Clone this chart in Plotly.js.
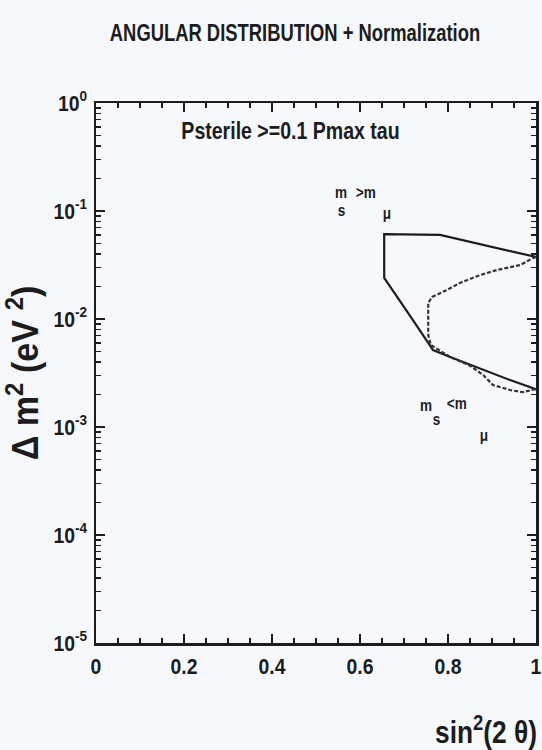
<!DOCTYPE html>
<html>
<head>
<meta charset="utf-8">
<script src="https://cdn.plot.ly/plotly-3.0.1.min.js"></script>
<style>
  html, body { margin: 0; padding: 0; background: #f7f8fc; }
  #plot { width: 542px; height: 750px; }
</style>
</head>
<body>
<div id="plot"></div>
<script>
// Allowed region boundary (solid contour): sin^2(2theta) vs delta m^2
const solidSin2 = [1.0, 0.782, 0.655, 0.655, 0.720, 0.766, 0.805, 0.880, 0.941, 0.998, 1.0];
const solidDm2  = [0.0375, 0.060, 0.0612, 0.024, 0.0098, 0.00516, 0.00445, 0.00337, 0.00272, 0.00225, 0.0022];

// Second contour (dashed)
const dashSin2 = [1.0, 0.993, 0.964, 0.911, 0.873, 0.827, 0.798, 0.764, 0.755, 0.755, 0.755, 0.761,
                  0.805, 0.850, 0.880, 0.902, 0.941, 0.970, 0.993, 1.0];
const dashDm2  = [0.0375, 0.0367, 0.0316, 0.0284, 0.0255, 0.0216, 0.0186, 0.016, 0.0141, 0.0098, 0.0071, 0.00574,
                  0.00445, 0.0037, 0.00303, 0.00245, 0.0022, 0.0021, 0.0022, 0.00225];

// Axis tick labels
const xTickVals = [0, 0.2, 0.4, 0.6, 0.8, 1];
const xTickText = ['0', '0.2', '0.4', '0.6', '0.8', '1'];
const yTickVals = [1, 0.1, 0.01, 0.001, 0.0001, 0.00001];
const yTickText = ['10<sup>0</sup>', '10<sup>-1</sup>', '10<sup>-2</sup>', '10<sup>-3</sup>', '10<sup>-4</sup>', '10<sup>-5</sup>'];

const FONT = '"Liberation Sans", Arial, Helvetica, sans-serif';
const INK = '#1c1c1c';

const traces = [
  {
    x: solidSin2, y: solidDm2, type: 'scatter', mode: 'lines',
    line: { color: INK, width: 2.2 }, hoverinfo: 'skip'
  },
  {
    x: dashSin2, y: dashDm2, type: 'scatter', mode: 'lines',
    line: { color: '#333', width: 2.2, dash: '4px,2px' }, hoverinfo: 'skip'
  }
];

// pixel helpers for the paper-positioned labels
const L = 96, R = 536, T = 103, B = 643;
const px = v => (v - L) / (R - L);
const py = v => (B - v) / (B - T);

const txt = (x, y, text, size, extra) => Object.assign({
  xref: 'paper', yref: 'paper', x: px(x), y: py(y), text: text, showarrow: false,
  xanchor: 'center', yanchor: 'middle',
  font: { family: FONT, size: size, color: INK, weight: 700 }
}, extra || {});

const annotations = [
  txt(290, 131, 'Psterile >=0.1 Pmax tau', 23),
  // m_s > m_mu
  txt(341, 192, 'm', 16), txt(341, 210, 's', 16), txt(366, 192, '>m', 16), txt(387, 213, 'μ', 16),
  // m_s < m_mu
  txt(426, 405, 'm', 16), txt(436, 419, 's', 16), txt(457, 404, '<m', 16), txt(484, 435, 'μ', 16),
  // x axis title
  txt(486, 730, 'sin<sup>2</sup>(2 θ)', 31)
];

const tickFont = { family: FONT, size: 22, color: INK, weight: 700 };

const layout = {
  width: 542, height: 750,
  paper_bgcolor: '#f7f8fc', plot_bgcolor: '#f7f8fc',
  margin: { l: L, r: 542 - R, t: T, b: 750 - B },
  showlegend: false,
  title: {
    text: 'ANGULAR DISTRIBUTION + Normalization',
    xref: 'container', yref: 'container', x: 295 / 542, y: 1 - 33 / 750,
    xanchor: 'center', yanchor: 'middle',
    font: { family: FONT, size: 23, color: INK, weight: 700 }
  },
  xaxis: {
    range: [0, 1], tickvals: xTickVals, ticktext: xTickText,
    ticks: 'inside', ticklen: 9, tickwidth: 1.5, tickcolor: INK,
    minor: { dtick: 0.05, ticks: 'inside', ticklen: 5, tickwidth: 1.2, tickcolor: INK },
    showline: true, linecolor: INK, linewidth: 2.5, mirror: 'ticks',
    showgrid: false, zeroline: false, ticklabeloverflow: 'allow',
    ticklabelstandoff: 2, tickfont: tickFont
  },
  yaxis: {
    type: 'log', range: [-5, 0], tickvals: yTickVals, ticktext: yTickText,
    ticks: 'inside', ticklen: 9, tickwidth: 1.5, tickcolor: INK,
    minor: { dtick: 'D1', ticks: 'inside', ticklen: 5, tickwidth: 1.2, tickcolor: INK },
    showline: true, linecolor: INK, linewidth: 2.5, mirror: 'ticks',
    showgrid: false, zeroline: false, ticklabeloverflow: 'allow',
    ticklabelstandoff: 2, tickfont: tickFont,
    title: {
      text: 'Δ m<sup>2</sup> (eV <sup>2</sup>)', standoff: 0,
      font: { family: FONT, size: 36, color: INK, weight: 700 }
    }
  },
  annotations: annotations
};

// Narrow the lettering along the text direction in its own frame,
// keeping the anchor edge fixed, for a condensed typeface look.
function squeeze(selector, sx) {
  document.querySelectorAll(selector).forEach(t => {
    const b = t.getBBox();
    const anchor = t.getAttribute('text-anchor') || getComputedStyle(t).textAnchor;
    let ox = b.x + b.width / 2;
    if (anchor === 'end') ox = b.x + b.width;
    else if (anchor === 'start') ox = b.x;
    const oy = b.y + b.height / 2;
    const tr = t.getAttribute('transform') || '';
    t.setAttribute('transform',
      `${tr} translate(${ox},${oy}) scale(${sx},1) translate(${-ox},${-oy})`);
  });
}

Plotly.newPlot('plot', traces, layout, { staticPlot: true, displayModeBar: false }).then(() => {
  squeeze('.gtitle', 0.8);
  squeeze('.xtick text', 0.88);
  squeeze('.ytick text', 0.88);
  squeeze('.ytitle', 0.95);
  squeeze('.annotation-text', 0.85);
});
</script>
</body>
</html>
